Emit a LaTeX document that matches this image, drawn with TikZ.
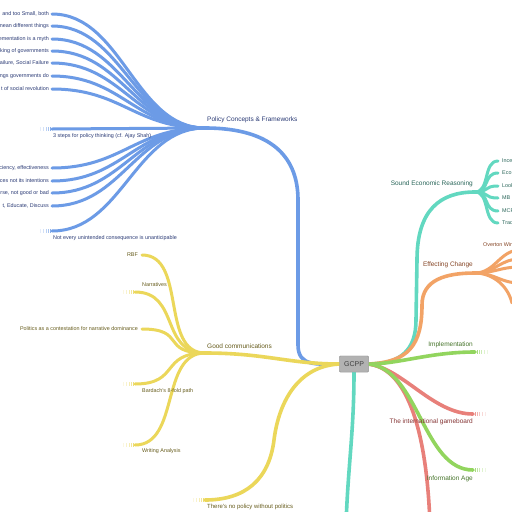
\documentclass[tikz,border=0pt]{standalone}
\usepackage{fontspec}
\setmainfont{Liberation Sans}
\definecolor{cblue}{HTML}{6C9BE6}
\definecolor{cyel}{HTML}{EBD75A}
\definecolor{cteal}{HTML}{62D8C0}
\definecolor{corange}{HTML}{F2A366}
\definecolor{cgreen}{HTML}{92D55E}
\definecolor{cred}{HTML}{E8807A}
\definecolor{tblue}{HTML}{2A3A75}
\definecolor{tyel}{HTML}{665C1C}
\definecolor{tteal}{HTML}{2A665A}
\definecolor{torange}{HTML}{864626}
\definecolor{tgreen}{HTML}{46742A}
\definecolor{tred}{HTML}{863636}
\newcommand{\fadeleft}[2]{%
  \foreach \d/\o in {2/0.8,4/0.6,6/0.45,9/0.3,12/0.18}
    \draw[#2, opacity=\o, line width=0.6pt] ([xshift=-\d pt, yshift=-1.6pt]#1) -- ([xshift=-\d pt, yshift=1.6pt]#1);}
\newcommand{\faderight}[2]{%
  \foreach \d/\o in {2/0.8,4/0.6,6/0.45,9/0.3,12/0.18}
    \draw[#2, opacity=\o, line width=0.6pt] ([xshift=\d pt, yshift=-1.6pt]#1) -- ([xshift=\d pt, yshift=1.6pt]#1);}
\begin{document}
\begin{tikzpicture}[x=1pt,y=-1pt,
  leaf/.style={font=\fontsize{5.4}{6.5}\selectfont, inner sep=0pt},
  hub/.style={font=\fontsize{6.5}{7.8}\selectfont, inner sep=0pt},
  bline/.style={draw=cblue, line width=3pt, line cap=round},
  bmain/.style={draw=cblue, line width=3.6pt, line cap=round},
  yline/.style={draw=cyel, line width=3pt, line cap=round},
  ymain/.style={draw=cyel, line width=3.6pt, line cap=round},
  tline/.style={draw=cteal, line width=3pt, line cap=round},
  tmain/.style={draw=cteal, line width=3.6pt, line cap=round},
  oline/.style={draw=corange, line width=3pt, line cap=round},
  omain/.style={draw=corange, line width=3.6pt, line cap=round},
  gmain/.style={draw=cgreen, line width=3.6pt, line cap=round},
  rmain/.style={draw=cred, line width=3.6pt, line cap=round},
  gbox/.style={draw=black!40, fill=black!30, rounded corners=1pt, minimum width=29pt, minimum height=16pt, inner sep=0pt, font=\fontsize{7}{8}\selectfont, text=black!75}
]
\useasboundingbox (0,0) rectangle (512,512);
\fill[white] (0,0) rectangle (512,512);
\clip (0,0) rectangle (512,512);

% ---------- coordinates ----------
\coordinate (pc) at (205,128);
\coordinate (bA) at (298,200);
\coordinate (bB) at (298,345);
\coordinate (gc) at (205,353);
\coordinate (np) at (205,500);
\coordinate (yA) at (274,440);
\coordinate (se) at (475,192);
\coordinate (tA) at (416,320);
\coordinate (tB) at (417,260);
\coordinate (tdown) at (346,525);
\coordinate (ec) at (475,273);
\coordinate (oA) at (422,305);
\coordinate (im) at (475,352);
\coordinate (ig) at (473,414);
\coordinate (ia) at (473,470);
\coordinate (rdown) at (430,525);

% blue leaves
\coordinate (b1) at (52,14);
\coordinate (b2) at (52,26);
\coordinate (b3) at (52,39);
\coordinate (b4) at (52,51);
\coordinate (b5) at (52,63);
\coordinate (b6) at (52,76);
\coordinate (b7) at (52,89);
\coordinate (b8) at (52,129);
\coordinate (b9) at (52,168);
\coordinate (b10) at (52,181);
\coordinate (b11) at (52,193);
\coordinate (b12) at (52,206);
\coordinate (b13) at (52,231);
% yellow leaves
\coordinate (y1) at (142,255);
\coordinate (y2) at (135,292);
\coordinate (y3) at (142,329);
\coordinate (y4) at (135,384);
\coordinate (y5) at (135,445);
% teal leaves
\coordinate (t1) at (498,161);
\coordinate (t2) at (498,173);
\coordinate (t3) at (498,186);
\coordinate (t4) at (498,198);
\coordinate (t5) at (498,211);
\coordinate (t6) at (498,223);
% orange leaves
\coordinate (o1) at (520,250);
\coordinate (o2) at (520,259);
\coordinate (o3) at (520,267);
\coordinate (o4) at (520,283);
\coordinate (o5) at (512,303);

% ---------- central node ----------
\node[gbox] (g) at (354,364) {GCPP};

% ---------- blue branch ----------
\draw[bmain] (pc) .. controls +(70,0) and +(0,-40) .. (bA) -- (bB) .. controls +(0,22) and +(-22,0) .. (g.west);
\foreach \n in {b1,b2,b3,b4,b5,b6,b7,b9,b10,b11,b12,b13}
  \draw[bline] (\n) .. controls +(70,0) and +(-70,0) .. (pc);
\draw[bline] (b8) -- (pc);
\node[hub, text=tblue, anchor=west] (pcl) at (207,120) {Policy Concepts \& Frameworks};
\node[leaf, text=tblue, anchor=east] (lb1) at (49,14) {and too Small, both};
\node[leaf, text=tblue, anchor=east] (lb2) at (49,26) {mean different things};
\node[leaf, text=tblue, anchor=east] (lb3) at (49,39) {ementation is a myth};
\node[leaf, text=tblue, anchor=east] (lb4) at (49,51) {king of governments};
\node[leaf, text=tblue, anchor=east] (lb5) at (49,63) {ailure, Social Failure};
\node[leaf, text=tblue, anchor=east] (lb6) at (49,76) {ngs governments do};
\node[leaf, text=tblue, anchor=east] (lb7) at (49,89) {t of social revolution};
\node[leaf, text=tblue, anchor=west] (lb8) at (53,136) {3 steps for policy thinking (cf. Ajay Shah)};
\node[leaf, text=tblue, anchor=east] (lb9) at (49,168) {iciency, effectiveness};
\node[leaf, text=tblue, anchor=east] (lb10) at (49,181) {ces not its intentions};
\node[leaf, text=tblue, anchor=east] (lb11) at (49,193) {rse, not good or bad};
\node[leaf, text=tblue, anchor=east] (lb12) at (49,206) {t, Educate, Discuss};
\node[leaf, text=tblue, anchor=west] (lb13) at (53,238) {Not every unintended consequence is unanticipable};
\fadeleft{b8}{cblue}
\fadeleft{b13}{cblue}

% ---------- yellow branch ----------
\draw[ymain] (gc) .. controls +(60,0) and +(-50,0) .. (g.west);
\draw[ymain] (g.west) .. controls +(-40,2) and +(5,-40) .. (yA) .. controls +(-5,40) and +(40,0) .. (np);
\foreach \n in {y1,y2,y3,y4,y5}
  \draw[yline] (\n) .. controls +(45,0) and +(-45,0) .. (gc);
\node[hub, text=tyel, anchor=west] (gcl) at (207,346) {Good communications};
\node[font=\fontsize{6}{7}\selectfont, inner sep=0pt, text=tyel, anchor=west] (npl) at (207,507) {There's no policy without politics};
\node[leaf, text=tyel, anchor=east] (ly1) at (138,255) {RBF};
\node[leaf, text=tyel, anchor=west] (ly2) at (142,285) {Narratives};
\node[leaf, text=tyel, anchor=east] (ly3) at (138,329) {Politics as a contestation for narrative dominance};
\node[leaf, text=tyel, anchor=west] (ly4) at (142,391) {Bardach's 8-fold path};
\node[leaf, text=tyel, anchor=west] (ly5) at (142,451) {Writing Analysis};
\fadeleft{y2}{cyel}
\fadeleft{y4}{cyel}
\fadeleft{y5}{cyel}
\fadeleft{np}{cyel}

% ---------- teal branch ----------
\draw[tmain] (g.south) .. controls +(0,60) and +(2,-60) .. (tdown);
\draw[tmain] (g.east) .. controls +(32,0) and +(0,30) .. (tA) -- (tB) .. controls +(0,-50) and +(-35,0) .. (se);
\foreach \n in {t1,t2,t3,t4,t5,t6}
  \draw[tline] (se) .. controls +(15,0) and +(-15,0) .. (\n);
\node[hub, text=tteal, anchor=east] (sel) at (473,184) {Sound Economic Reasoning};
\node[leaf, text=tteal, anchor=west] (lt1) at (502,161) {Ince};
\node[leaf, text=tteal, anchor=west] (lt2) at (502,173) {Eco};
\node[leaf, text=tteal, anchor=west] (lt3) at (502,186) {Look};
\node[leaf, text=tteal, anchor=west] (lt4) at (502,198) {MB};
\node[leaf, text=tteal, anchor=west] (lt5) at (502,211) {MCF};
\node[leaf, text=tteal, anchor=west] (lt6) at (502,223) {Trad};

% ---------- orange branch ----------
\draw[omain] (g.east) .. controls +(40,-2) and +(0,40) .. (oA) .. controls +(0,-25) and +(-30,0) .. (ec);
\foreach \n in {o1,o2,o3,o4}
  \draw[oline] (ec) .. controls +(20,0) and +(-20,0) .. (\n);
\draw[oline] (ec) .. controls +(15,0) and +(-5,-20) .. (o5);
\node[hub, text=torange, anchor=east] (ecl) at (473,265) {Effecting Change};
\node[leaf, text=torange, anchor=west] (lo1) at (483,245) {Overton Win};

% ---------- green / red branches ----------
\draw[rmain] (g.east) .. controls +(40,5) and +(-3,-90) .. (rdown);
\draw[gmain] (g.east) .. controls +(30,0) and +(-45,0) .. (im);
\draw[rmain] (g.east) .. controls +(35,5) and +(-40,0) .. (ig);
\draw[gmain] (g.east) .. controls +(50,5) and +(-50,0) .. (ia);
\node[hub, text=tgreen, anchor=east] (iml) at (473,345) {Implementation};
\node[hub, text=tred, anchor=east] (igl) at (473,422) {The international gameboard};
\node[hub, text=tgreen, anchor=east] (ial) at (473,479) {Information Age};
\faderight{im}{cgreen}
\faderight{ig}{cred}
\faderight{ia}{cgreen}

% redraw central node on top
\node[gbox] at (g) {GCPP};
\end{tikzpicture}
\end{document}
